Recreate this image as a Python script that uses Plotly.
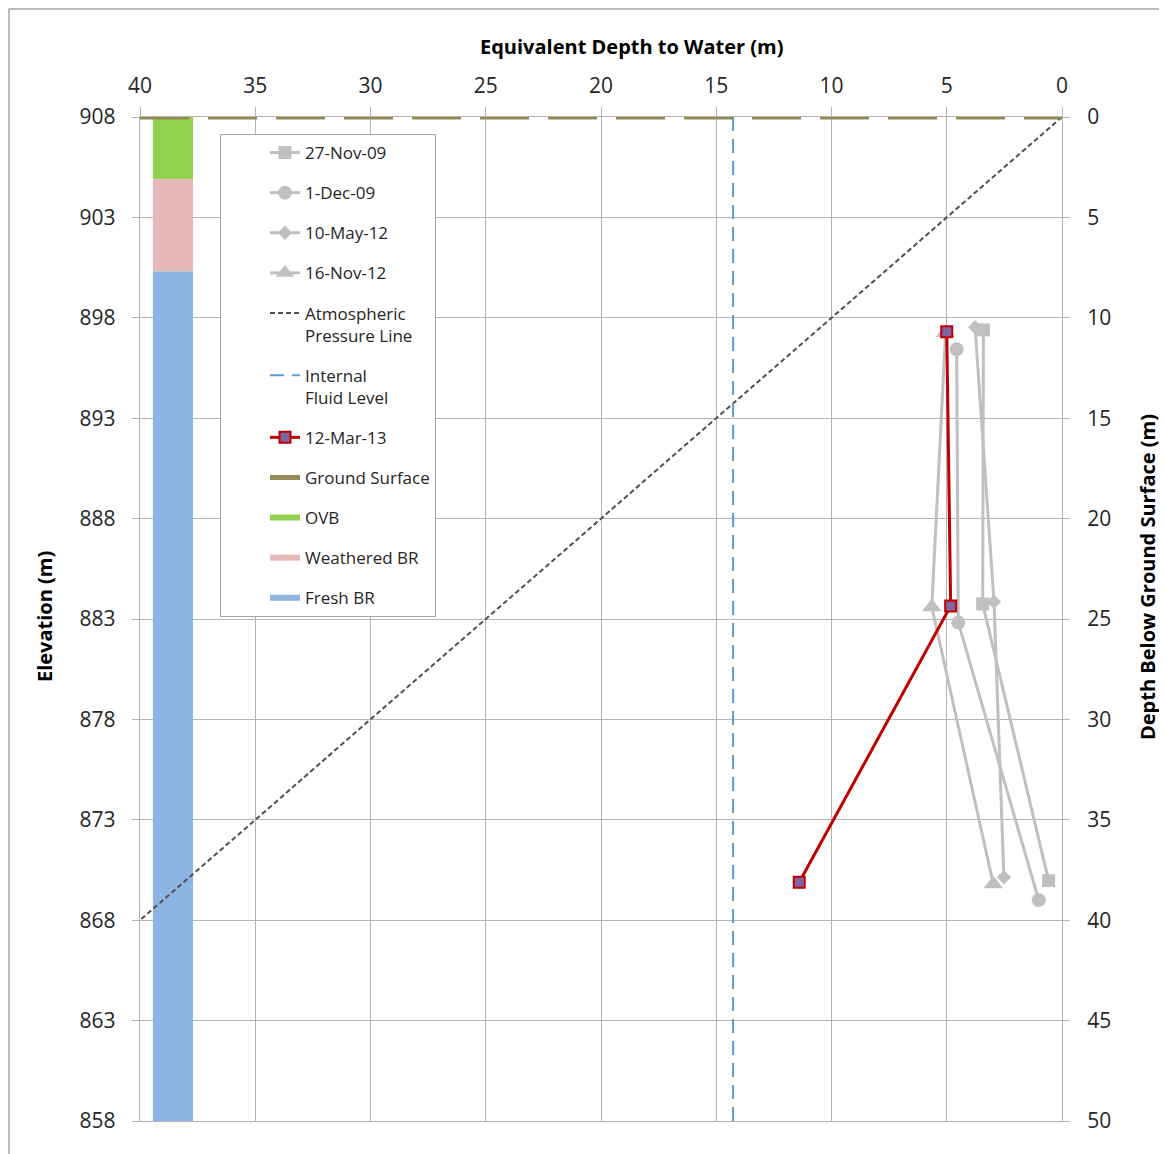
import plotly.graph_objects as go

# ---------------- data ----------------
x_ticks = list(range(0, 45, 5))          # equivalent depth to water (m)
elev_ticks = list(range(858, 913, 5))    # elevation (m)
depth_ticks = list(range(0, 55, 5))      # depth below ground surface (m)

nov09_x = [3.41, 3.44, 0.58]
nov09_d = [10.6, 24.25, 38.03]
dec09_x = [4.57, 4.50, 1.01]
dec09_d = [11.57, 25.18, 39.0]
may12_x = [3.77, 2.95, 2.52]
may12_d = [10.47, 24.14, 37.86]
nov12_x = [5.05, 5.65, 2.98]
nov12_d = [10.75, 24.4, 38.2]
mar13_x = [5.00, 4.83, 11.40]
mar13_d = [10.69, 24.35, 38.11]

atm_x = [0, 40]
atm_d = [0, 40]
fluid_x = [14.27, 14.27]
fluid_d = [0, 50]
ground_x = [40, 0]
ground_d = [0, 0]

strat_names = ["OVB", "Weathered BR", "Fresh BR"]
strat_top = [0, 3.1, 7.7]
strat_bottom = [3.1, 7.7, 50]
strat_colors = ["#92d050", "#e6b9b8", "#8db4e2"]
column_x = 38.57
column_w = 1.74

FONT = "Open Sans"
GRAY = "#c0c0c0"
GRID = "#b4b4b4"

fig = go.Figure()

# invisible trace so that the elevation axis is drawn
fig.add_trace(go.Scatter(x=[None], y=[None], yaxis="y", mode="lines",
                         showlegend=False, hoverinfo="skip"))

# atmospheric pressure line
fig.add_trace(go.Scatter(x=atm_x, y=atm_d, yaxis="y2", mode="lines",
                         name="Atmospheric<br>Pressure Line", legendrank=5, legendgroup="g5",
                         line=dict(color="#505050", width=2, dash="5px,3px")))

# stratigraphy column
for nm, top, bot, col in zip(strat_names, strat_top, strat_bottom, strat_colors):
    fig.add_trace(go.Bar(x=[column_x], y=[bot - top], base=[top], width=[column_w],
                         yaxis="y2", marker=dict(color=col, line=dict(width=0)),
                         showlegend=False, hoverinfo="skip"))

# internal fluid level
fig.add_trace(go.Scatter(x=fluid_x, y=fluid_d, yaxis="y2", mode="lines",
                         name="Internal<br>Fluid Level", legendrank=6, legendgroup="g6",
                         line=dict(color="#5b9bd5", width=2, dash="14px,8px")))

# ground surface
fig.add_trace(go.Scatter(x=ground_x, y=ground_d, yaxis="y2", mode="lines",
                         name="Ground Surface", legendrank=8, legendgroup="g8",
                         line=dict(color="#948a54", width=5, dash="49px,19px")))

# historic series
hist = [
    ("27-Nov-09", nov09_x, nov09_d, "square", 13),
    ("1-Dec-09", dec09_x, dec09_d, "circle", 14),
    ("10-May-12", may12_x, may12_d, "diamond", 11),
    ("16-Nov-12", nov12_x, nov12_d, "triangle-up", 17),
]
for i, (nm, xs, ds, sym, sz) in enumerate(hist):
    fig.add_trace(go.Scatter(x=xs, y=ds, yaxis="y2", mode="lines+markers",
                             name=nm, legendrank=i + 1, legendgroup="g%d" % (i + 1),
                             line=dict(color=GRAY, width=3),
                             marker=dict(symbol=sym, size=sz, color=GRAY,
                                         line=dict(width=0))))

# latest series
fig.add_trace(go.Scatter(x=mar13_x, y=mar13_d, yaxis="y2", mode="lines+markers",
                         name="12-Mar-13", legendrank=7, legendgroup="g7",
                         line=dict(color="#c00000", width=3),
                         marker=dict(symbol="square", size=11, color="#8064a2",
                                     line=dict(color="#c00000", width=2))))

# legend entries for stratigraphy
for i, (nm, col) in enumerate(zip(strat_names, strat_colors)):
    fig.add_trace(go.Scatter(x=[None], y=[None], yaxis="y2", mode="lines",
                             name=nm, legendrank=9 + i, legendgroup="g%d" % (9 + i),
                             line=dict(color=col, width=6)))

# page body has an 8px margin: plot area in page pixels is 140..1062 x 117..1121
OFF = 8
W, H = 1167 - OFF, 1154 - OFF
PL, PR, PT, PB = 140, 1062, 117, 1121
L, R, T, B = PL - OFF, (W + OFF) - PR, PT - OFF, (H + OFF) - PB
PW, PH = PR - PL, PB - PT


def px(xp):
    return (xp - PL) / PW


def py(yp):
    return 1 - (yp - PT) / PH


axis_common = dict(showgrid=True, gridcolor=GRID, gridwidth=1.3, zeroline=False,
                   showline=True, linecolor=GRID, linewidth=1.3, ticks="outside",
                   tickcolor=GRID, tickwidth=1.3,
                   tickfont=dict(family=FONT, size=21, color="#262626"))

title_font = dict(family=FONT, size=20, color="black")

fig.update_layout(
    width=W, height=H,
    margin=dict(l=L, r=R, t=T, b=B),
    paper_bgcolor="white", plot_bgcolor="white",
    barmode="overlay",
    font=dict(family=FONT, color="#262626"),
    xaxis=dict(side="top", range=[40, 0], tickvals=x_ticks, ticklen=9,
               ticklabelstandoff=5, mirror=True, **axis_common),
    yaxis=dict(range=[858, 908], tickvals=elev_ticks, ticklen=7,
               ticklabelstandoff=12, mirror=True, **axis_common),
    yaxis2=dict(overlaying="y", side="right", range=[50, 0], tickvals=depth_ticks,
                ticklen=7, ticklabelstandoff=13,
                **{**axis_common, "showgrid": False, "showline": False}),
    showlegend=True,
    legend=dict(x=px(220), y=py(134), xanchor="left", yanchor="top",
                bgcolor="white", bordercolor="#a6a6a6", borderwidth=1,
                font=dict(family=FONT, size=17, color="#262626"),
                traceorder="grouped", tracegroupgap=15, valign="top",
                indentation=44, entrywidth=151),
    annotations=[
        dict(text="<b>Equivalent Depth to Water (m)</b>", x=px(631), y=py(46),
             xanchor="center", yanchor="middle",
             xref="paper", yref="paper", showarrow=False, font=title_font),
        dict(text="<b>Elevation (m)</b>", x=px(44), y=py(617), textangle=-90,
             xanchor="center", yanchor="middle",
             xref="paper", yref="paper", showarrow=False, font=title_font),
        dict(text="<b>Depth Below Ground Surface (m)</b>", x=px(1147), y=py(577),
             textangle=-90, xanchor="center", yanchor="middle",
             xref="paper", yref="paper", showarrow=False, font=title_font),
    ],
    shapes=[dict(type="rect", xref="paper", yref="paper",
                 x0=px(9), x1=px(1180), y0=py(1170), y1=py(9),
                 line=dict(color="#a6a6a6", width=1.5), layer="below")],
)

fig.write_html("out.html")
